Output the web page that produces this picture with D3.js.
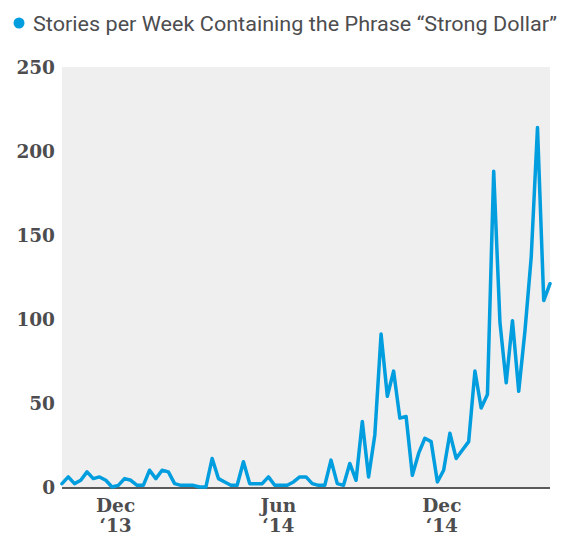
<!DOCTYPE html>
<html>
<head>
<meta charset="utf-8">
<script src="https://cdn.jsdelivr.net/npm/d3@7"></script>
<style>
  html, body { margin: 0; padding: 0; background: #ffffff; }
  svg { display: block; }
</style>
</head>
<body>
<svg id="chart" width="567" height="535"></svg>
<script>
// ---- data ----
const seriesName = "Stories per Week Containing the Phrase \u201cStrong Dollar\u201d";
const startDate = "2013-10-02";
const storiesPerWeek = [
  2, 6, 2, 4, 9, 5, 6, 4, 0, 1,
  5, 4, 1, 1, 10, 5, 10, 9, 2, 1,
  1, 1, 0, 0, 17, 5, 3, 1, 1, 15,
  2, 2, 2, 6, 1, 1, 1, 3, 6, 6,
  2, 1, 1, 16, 2, 1, 14, 4, 39, 6,
  31, 91, 54, 69, 41, 42, 7, 20, 29, 27,
  3, 10, 32, 17, 22, 27, 69, 47, 55, 188,
  98, 62, 99, 57, 93, 137, 214, 111, 121
];
const yTicks = [0, 50, 100, 150, 200, 250];
const xTickDates = ["2013-12-01", "2014-06-01", "2014-12-01"];
const xTickMonths = ["Dec", "Jun", "Dec"];
const xTickYears = ["\u201813", "\u201814", "\u201814"];

// ---- layout ----
const lineColor = "#009ddf";
const textColor = "#4d4d4f";
const plot = { left: 62, right: 550, top: 67, bottom: 487 };

const parse = d3.timeParse("%Y-%m-%d");
const start = parse(startDate);
const points = storiesPerWeek.map((v, i) => ({ date: d3.timeDay.offset(start, i * 7), value: v }));

const x = d3.scaleTime()
  .domain(d3.extent(points, d => d.date))
  .range([plot.left, plot.right]);
const y = d3.scaleLinear()
  .domain([0, 250])
  .range([plot.bottom, plot.top]);

const svg = d3.select("#chart");

// plot background
svg.append("rect")
  .attr("x", plot.left)
  .attr("y", plot.top)
  .attr("width", plot.right - plot.left)
  .attr("height", plot.bottom - plot.top)
  .attr("fill", "#efefef");

// y axis labels
const yAxis = d3.axisLeft(y).tickValues(yTicks).tickSize(0).tickPadding(0).tickFormat(d3.format("d"));
const yG = svg.append("g")
  .attr("transform", `translate(${plot.left - 7},0)`)
  .call(yAxis);
yG.select(".domain").remove();
yG.selectAll("text")
  .attr("font-family", "'DejaVu Serif', serif")
  .attr("font-weight", "bold")
  .attr("font-size", "18.5px")
  .attr("fill", textColor)
  .attr("dy", "0.36em");

// x axis labels
const xG = svg.append("g");
xTickDates.forEach((ds, i) => {
  const cx = x(parse(ds));
  const t = xG.append("text")
    .attr("x", cx)
    .attr("text-anchor", "middle")
    .attr("font-family", "'DejaVu Serif', serif")
    .attr("font-weight", "bold")
    .attr("font-size", "18.5px")
    .attr("fill", textColor);
  t.append("tspan").attr("x", cx).attr("y", 512).text(xTickMonths[i]);
  t.append("tspan").attr("x", cx).attr("y", 532).text(xTickYears[i]);
});

// baseline
svg.append("line")
  .attr("x1", plot.left)
  .attr("x2", plot.right)
  .attr("y1", y(0) + 1)
  .attr("y2", y(0) + 1)
  .attr("stroke", "#5a5a5a")
  .attr("stroke-width", 2);

// line
const line = d3.line()
  .x(d => x(d.date))
  .y(d => y(d.value));
svg.append("path")
  .datum(points)
  .attr("d", line)
  .attr("fill", "none")
  .attr("stroke", lineColor)
  .attr("stroke-width", 3.5)
  .attr("stroke-linejoin", "round")
  .attr("stroke-linecap", "round");

// legend
svg.append("circle")
  .attr("cx", 19)
  .attr("cy", 23)
  .attr("r", 5.5)
  .attr("fill", lineColor);
svg.append("text")
  .attr("x", 33)
  .attr("y", 31)
  .attr("font-family", "Roboto, 'Liberation Sans', sans-serif")
  .attr("font-size", "21px")
  .attr("fill", textColor)
  .attr("textLength", 524)
  .attr("lengthAdjust", "spacingAndGlyphs")
  .text(seriesName);
</script>
</body>
</html>
